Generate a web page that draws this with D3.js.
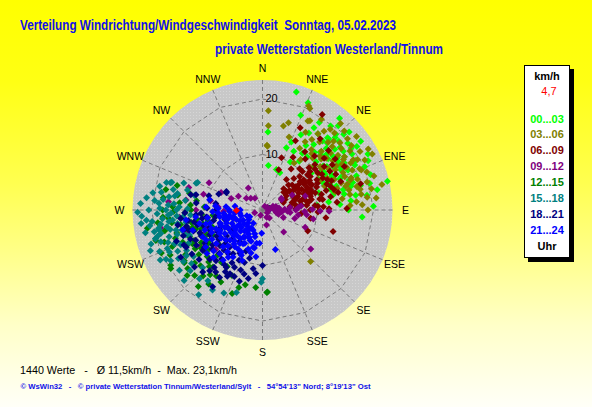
<!DOCTYPE html>
<html><head><meta charset="utf-8">
<script src="https://cdn.jsdelivr.net/npm/d3@7"></script>
<style>
body{margin:0;overflow:hidden;background:#fff}
text{font-family:"Liberation Sans",Arial,sans-serif}
</style></head>
<body><svg id="chart" width="592" height="407"></svg>
<script>
// ---------- data ----------
const compassLabels = ["N","NNE","NE","ENE","E","ESE","SE","SSE","S","SSW","SW","WSW","W","WNW","NW","NNW"];
const ringValues = [10, 20];
const speedTickLabels = ["0", "10", "20"];
const speedTickValues = [0, 10, 20];
const binLabels = ["00...03","03...06","06...09","09...12","12...15","15...18","18...21","21...24"];
const titleText = "Verteilung Windrichtung/Windgeschwindigkeit  Sonntag, 05.02.2023";
const subtitleText = "private Wetterstation Westerland/Tinnum";
const statsText = "1440 Werte   -   \u00D8 11,5km/h  -  Max. 23,1km/h";
const footerText = "\u00A9 WsWin32   -   \u00A9 private Wetterstation Tinnum/Westerland/Sylt   -   54\u00B054'13\" Nord; 8\u00B019'13\" Ost";
const currentValue = [269, 4.7];   // [direction deg, speed km/h]
const currentLabel = "4,7";

// [direction (deg), speed (km/h)] per 3-hour bin
const bin00_03 = [[16,22.1],[23,21],[22,18.4],[33,18.8],[40,21.6],[42,20.4],[4,14.1],[7.5,8.1],[21,12],[23,13.3],[27,15.2],[31,16.2],[43,17.5],[45,18.5],[55,19.5],[55,21.6],[58,16.2],[63,15.9],[64,13.9],[57,12.4],[73,12.8],[73,10.6],[85,9.9],[75,16.5],[76,18.2],[76,19.9],[77,23.1],[94,18],[25,7.4],[19,7.7],
[38,15],[42,14],[46,16],[48,13],[50,17],[52,15],[54,18],[56,14],[60,17],[62,19],[65,17],[68,15],[70,18],[72,14],[66,12],[58,13],[50,12],[44,19],[36,17],[34,14],[40,12.5],[47,20],[53,11],[61,11.5],[67,20],[71,16.5],[74,13],[79,15],[81,17],[83,12],[48,18.5],[45,14.7],[55,16.5],[59,15],[63,14],[69,13],[37,11],[30,10],[86,14],[88,20],[80,21],[65,21],[57,17.6],[52,19.5],[41,16.5],[49,15.3],
[44,16.8],[51,18],[54,13.5],[58,19],[61,16],[64,18.5],[67,15.5],[70,13],[73,17],[76,15],[78,13],[82,19],[47,14.5],[42,17.5],[39,19.5],[35,12.5],[53,16],[56,20.5],[60,13],[66,14],[72,20.5],[62,21.5],[48,21],[84,16],[90,15.5],[28,12],[32,17.5]];
const bin03_06 = [[3.4,17.9],[4,15.2],[14,15.6],[4.5,11.5],[16.6,16.4],[25,20.2],[28,18.2],[137,12.7],[84,20.6],[63,22.2],[87,15.8],[37,11.4],[34,10.2],[24,20.5],[20,14],[4,11.7],
[47.6,17],[47,14.2],[57,17.6],[62,18],[62,19.4],[43,19],[68,19.2],[71,16.8],[74,15.6],[40,16],[45,15],[50,16],[52,18],[55,15.5],[58,14],[60,16.5],[65,16],[67,14],[70,20],[72,18],[75,19.5],[78,18],[80,16],[44,13],[48,11.5],[53,13],[56,19],[59,20.5],[38,18],[35,15.5],[31,13],[42,21],[50,20],[64,13],[69,12],[76,13.5],[82,14.5],[61,15],[54,16.8],[46,17.8],[39,14],[66,17.7],[73,21],[57,12],[63,11.5],[29,16],[33,19.5],[49,14],[78,22],[85,17],[90,19],[71,15],[52,21.5],[60,22],
[44,17],[49,18.5],[51,14.8],[54,19.8],[58,17.2],[61,18.7],[64,20.5],[67,19],[70,17],[73,16],[76,17.5],[79,20],[81,18],[41,13.5],[46,20.5],[36,17],[40,19],[55,13],[59,15.5],[63,17],[68,16],[74,14],[77,16],[83,19],[87,18],[32,14.5],[27,18]];
const bin06_09 = [[32,20.3],[24.6,16.3],[25.5,13.8],[22,7.8],[107,13.3],[89,15.2],[75,18.3],[99.6,8.8],[45,5.4],[39,16.5],[55,16],[62,16.7],[20,10],[30,11],[115,9],[97,11.5],
[53.7,9.2],[57,6.7],[67,9.4],[61,11.2],[53,5.5],[71,6.5],[47.8,11.3],[54.8,13.6],[65,12.9],[74,13.4],[83,5],[90,8.6],[62,3.9],[50,7],[55,8],[58,10],[60,7.5],[63,9],[66,6],[69,8],[72,10],[75,7.5],[78,9],[80,11],[82,7],[85,9.5],[87,11],[48,9],[45,8],[42,10],[40,12],[46,6.5],[51,11],[56,12],[64,11],[68,12.5],[73,12],[77,14],[59,5],[65,4.5],[76,5.5],[70,4],[88,6],[92,10],[95,7],[44,13.5],[50,14.5],[60,14],[35,9],[38,7],[52,10.3],[58,8.8],[62,12.3],[67,10.6],[71,8.8],[79,12.5],[84,13.5],[57,15],[48,16],[36,13],
[50,5],[54,6],[58,7],[62,8],[66,8.5],[70,9.5],[74,9],[78,8],[81,6],[84,8],[86,10],[89,12],[52,12],[55,10.5],[59,12.5],[63,10],[67,13.5],[71,13],[75,11],[79,10.5],[46,10],[49,12.5],[53,8.5],[57,9.2],[61,9.8],[65,7.2],[69,6.8],[73,6],[77,7],[80,8.5],[64,14.7],[70,15],[55,7.3],[60,6]];
const bin09_12 = [[90,1],[85,2],[92,3],[88,4],[95,5],[90,6],[86,6.5],[93,4.5],[80,1.5],[100,2.5],[120,1],[150,1.5],[60,1],[30,0.8],[200,1],[250,1.5],[165,2.8],[139,1.9],[136,5.5],[112,8.3],[129,11.2],[91,10.4],[100,9.3],[62,3.9],[92,7.6],[327,2.5],[327,4.7],[58,4],[63,6],[72,8.1],[91,12],[96,8],[89,9],[84,7],[105,6],[110,4],
[75,2.5],[95,3.5],[85,5],[98,6.5],[83,3],[105,3],[70,2],[90,2.2],
[297,10.8],[293,8.1],[287,13.9],[274,8],[252,10.7],[260,18.6],[306,3.6],[277.5,13.9],[258.5,11.9],[248,11.3],[285,11],[290,6],[280,9.5],[270,12],[265,15],[255,14],[245,9],[262,10],[275,17],[268,7],[300,5],[315,3],[240,13],[230,11]];
const bin12_15 = [[252,18.6],[272,16.2],[247,19.8],[239,19.3],[237,16.8],[232,17.1],[226,17],[233,12.7],[221,13.6],[197,14.6],[177,14.9],[238.6,11.5],[270,12.9],[257,11],[245,8.5],[282,17.8],[283,13.5],[237.5,19.6],[176.5,14.8],[193,13.8],
[260,15],[255,16],[250,14],[265,17],[268,14],[262,12],[258,18],[245,15],[242,12.5],[248,17.5],[253,11.5],[263,19],[275,15],[278,12],[240,16],[235,14],[230,13],[228,15],[222,16],[215,14.5],[210,15],[205,13],[218,12],[243,10],[251,9.5],[264,9],[256,13],[246,13.5],[270,18],[266,11],[259,10],[233,10],[225,11.5],[212,12],[200,16],[185,14],[220,18],[244,18.5],[254,20],[261,21],[238,13],[249,12],[273,10.5],[280,15.5],[286,16],
[258,14],[262,16.5],[266,18],[252,16.5],[248,15.5],[244,14],[240,14],[236,17],[232,15.5],[229,18],[226,13.5],[223,14],[219,15],[216,16.5],[254,12.5],[260,13],[269,16],[274,13],[277,18],[246,11],[240,11],[234,12]];
const bin15_18 = [[267,21.8],[263.7,22],[273.7,18.7],[286.5,17.3],[292,12.9],[281,15.6],[258.6,19.9],[255,19.9],[252.6,19.2],[245.7,18.4],[241,18.9],[234,18.5],[222.6,16.8],[217.7,16.1],[270,17.4],[263.6,16.3],[265,14.4],[272,15],[265,18.1],[251,13.9],[259,19],[180,12.4],[287,17.1],[293,12.7],[255,20],[217,19.1],[197.5,15.6],[181,13],
[268,19],[270,20.5],[275,19.5],[278,17],[280,18.5],[276,21],[262,20.5],[260,17.5],[257,16],[254,17.5],[250,16.5],[248,20],[244,17],[266,15.5],[271,13.5],[274,16],[283,19],[285,14],[261,14],[256,15],[252,14.5],[239,16],[236,15],[230,17],[228,19],[262,18.5],[269,22.5],[259,21.5],[264,20],[277,14],[282,12.5],[289,15],[246,14.5],[242,15.5],[226,15],[212,17],[205,16.5],[267,17],[257,18.8],[253,21],[273,22],[279,20],[248,18.5],
[265,21],[260,19],[258,17],[256,19.5],[254,16],[251,18],[249,17],[247,16],[243,19.5],[240,17.5],[237,17],[233,16],[271,18.5],[273,17],[276,18],[279,16],[283,16.5],[286,18],[263,17],[261,15.5],[266,13],[268,16.5],[270,15.5],[244,20.5],[250,21.5]];
const bin18_21 = [[282,13.2],[290,8.4],[295.6,7.2],[267,11.1],[254.6,13.7],[245.6,13.2],[235.9,13],[222.6,12.4],[212.4,12.2],[207,12.9],[189,10.7],[191.7,12.6],[212.5,14.4],[221,14.5],[244,15.3],[221.5,8.9],[207.6,8.8],[238,9.1],[249,10.2],[263,10.2],[270,8.4],[180,10],[213,16.5],[283,12.3],[297,7.3],[186,11.5],
[230,10],[235,11],[240,12],[245,10.5],[250,12],[255,11],[260,12.5],[258,9],[252,8],[246,8.5],[240,9.5],[234,8],[228,9],[225,11],[218,10],[214,9.5],[210,11],[205,10],[200,11.5],[196,12],[220,13.5],[227,13],[232,14.5],[238,15],[248,14],[256,14.5],[262,13.5],[266,12],[272,10],[276,12],[278,8.5],[285,10],[243,7],[236,6.5],[226,7.5],[216,7],[202,8],[195,9],[230,16],[240,17],[250,16.5],[260,15.5],[268,14],[224,15.5],[217,14],[208,13.5],[253,13],
[232,11.5],[237,12.5],[242,13.5],[247,12],[252,10],[257,12],[262,11],[236,9.5],[230,8.5],[224,10],[220,11.5],[215,12],[211,13],[206,11.5],[203,13],[199,10],[198,13.5],[246,15.5],[252,15],[258,14],[264,14.8],[244,9],[249,8],[256,7],[262,8.5]];
const bin21_24 = [[267,5.9],[262,4.1],[242,2.6],[214.6,2.9],[218.7,4.6],[237,5.6],[250,6.9],[241.6,8.8],[227,8],[214,7.3],[202.6,5.9],[195.7,5],[190,6.1],[194,6.9],[206.7,8.5],[212,10],[218,11.5],[226,12.3],[236.8,12.2],[245.6,11.8],[253.8,13.1],[264,12.1],[273,10.2],[281,9.7],[275,6.6],[261,7.8],[257,5.4],[242,3.9],[213,5.8],[217,8.3],[227,9.7],[234,10.3],[256,9.8],[258,11.6],[262.5,13.9],[256,14.8],[162,7.5],[182,4.2],
[205,4],[210,5],[215,6],[220,5],[225,6.5],[230,5],[235,7],[240,6],[245,7.5],[250,5],[255,6.5],[260,6],[265,7],[270,6],[222,7.5],[228,3.5],[233,4.2],[238,8],[244,4.5],[248,9],[253,8],[208,6.8],[200,7.5],[198,4.5],[212,3.8],[224,9],[231,8.5],[246,10],[251,11],[268,9],[272,8],[262,10],[240,10.5],[230,11.5],[220,9.8],[205,9],[195,8],[185,6],[215,4.5],[235,3],[255,4],[268,4.5],[278,5],[250,3],
[210,7],[218,6.5],[226,5.5],[234,6],[242,7],[250,8],[258,7],[264,5],[270,4],[275,8.5],[266,8],[212,8.3],[220,8],[228,7],[236,9],[244,8.5],[250,9.8],[256,10.5],[222,4],[230,6.5],[238,5],[246,6],[254,5.5],[262,6.8],[200,6],[206,5.5],[192,7],[188,8.5],[202,9.8],[216,10.5],[224,11],[232,12.7],[242,11.5]];
const bins = [bin00_03, bin03_06, bin06_09, bin09_12, bin12_15, bin15_18, bin18_21, bin21_24];

// ---------- styles ----------
const binColors = ["#00ff00","#808000","#800000","#800080","#008000","#008080","#000080","#0000ff"];

// ---------- drawing ----------
const svg = d3.select("#chart");
const defs = svg.append("defs");
const grad = defs.append("linearGradient").attr("id","bg").attr("x1",0).attr("y1",0).attr("x2",0).attr("y2",1);
[[0,"#ffff00"],[0.2,"#ffff14"],[0.45,"#ffff50"],[0.62,"#ffff88"],[0.8,"#ffffc8"],[1,"#fffff8"]]
  .forEach(([o,c]) => grad.append("stop").attr("offset",o).attr("stop-color",c));
const pat = defs.append("pattern").attr("id","dots").attr("width",3).attr("height",3).attr("patternUnits","userSpaceOnUse");
pat.append("rect").attr("width",3).attr("height",3).attr("fill","#c8c8c8");
pat.append("rect").attr("x",1).attr("y",1).attr("width",1).attr("height",1).attr("fill","#d6d6d6");

svg.append("rect").attr("width",592).attr("height",407).attr("fill","url(#bg)");

const cx = 262.5, cy = 210, outerR = 130;
const r = d3.scaleLinear().domain([0, 20]).range([0, 111]);
const ang = d3.scaleLinear().domain([0, 360]).range([0, 2 * Math.PI]);
const px = (d, s) => cx + r(s) * Math.sin(ang(d));
const py = (d, s) => cy - r(s) * Math.cos(ang(d));
const dirAngles = d3.range(compassLabels.length).map(i => i * 360 / compassLabels.length);

// titles
svg.append("text").attr("x",20).attr("y",30).attr("font-size",14).attr("font-weight","bold")
  .attr("fill","#1010e8").attr("textLength",376).attr("lengthAdjust","spacingAndGlyphs")
  .style("white-space","pre").text(titleText);
svg.append("text").attr("x",215).attr("y",54).attr("font-size",14).attr("font-weight","bold")
  .attr("fill","#1010e8").attr("textLength",228).attr("lengthAdjust","spacingAndGlyphs")
  .text(subtitleText);

// polar background
svg.append("circle").attr("cx",cx).attr("cy",cy).attr("r",outerR).attr("fill","url(#dots)");

const grid = svg.append("g").attr("stroke","#7a7a7a").attr("stroke-width",1)
  .attr("stroke-dasharray","4,3").attr("fill","none");
grid.selectAll("line.spoke").data(dirAngles).join("line")
  .attr("x1",cx).attr("y1",cy)
  .attr("x2",d => cx + outerR * Math.sin(ang(d)))
  .attr("y2",d => cy - outerR * Math.cos(ang(d)));
grid.selectAll("path.ring").data(ringValues).join("path")
  .attr("d", v => d3.line()(dirAngles.map(d => [px(d, v), py(d, v)])) + "Z");

// speed labels
svg.selectAll("text.sp").data(speedTickValues).join("text")
  .attr("x", cx + 3).attr("y", v => cy - r(v) + 3)
  .attr("font-size",11).attr("fill","#000")
  .text((v,i) => speedTickLabels[i]);

// compass labels
svg.selectAll("text.cmp").data(compassLabels).join("text")
  .attr("x",(t,i) => cx + 143 * Math.sin(ang(dirAngles[i])))
  .attr("y",(t,i) => cy - 142 * Math.cos(ang(dirAngles[i])))
  .attr("text-anchor","middle").attr("dominant-baseline","central")
  .attr("font-size",10.5).attr("fill","#000").text(t => t);

// points
const diamond = (x, y) => `M${x},${y-3.5}L${x+3.5},${y}L${x},${y+3.5}L${x-3.5},${y}Z`;
bins.forEach((pts, bi) => {
  svg.append("g").attr("fill", binColors[bi])
    .selectAll("path").data(pts).join("path")
    .attr("d", p => diamond(px(p[0], p[1]), py(p[0], p[1])));
});
svg.append("path").attr("fill","#ff0000").attr("d", diamond(px(currentValue[0], currentValue[1]), py(currentValue[0], currentValue[1])));

// legend
svg.append("rect").attr("x",528).attr("y",69).attr("width",46).attr("height",193).attr("fill","#000");
svg.append("rect").attr("x",524.5).attr("y",65.5).attr("width",45).attr("height",192).attr("fill","#fff").attr("stroke","#000");
const lx = 547;
svg.append("text").attr("x",lx).attr("y",80).attr("text-anchor","middle").attr("font-size",11).attr("font-weight","bold").text("km/h");
svg.append("text").attr("x",lx + 2).attr("y",95).attr("text-anchor","middle").attr("font-size",11).attr("fill","#ff0000").text(currentLabel);
const legendY = d3.scaleLinear().domain([0, 7]).range([122.5, 234]);
svg.selectAll("text.lg").data(binLabels).join("text")
  .attr("x",lx).attr("y",(d,i) => legendY(i)).attr("text-anchor","middle")
  .attr("font-size",11).attr("font-weight","bold").attr("fill",(d,i) => binColors[i]).text(d => d);
svg.append("text").attr("x",lx).attr("y",250).attr("text-anchor","middle").attr("font-size",11).attr("font-weight","bold").text("Uhr");

// bottom texts
svg.append("text").attr("x",20).attr("y",373.5).attr("font-size",11.5).attr("fill","#000")
  .attr("textLength",217).attr("lengthAdjust","spacingAndGlyphs").style("white-space","pre").text(statsText);
svg.append("text").attr("x",20.5).attr("y",388.5).attr("font-size",7.5).attr("font-weight","bold").attr("fill","#1010e8")
  .attr("textLength",350).attr("lengthAdjust","spacingAndGlyphs").style("white-space","pre").text(footerText);
</script></body></html>
